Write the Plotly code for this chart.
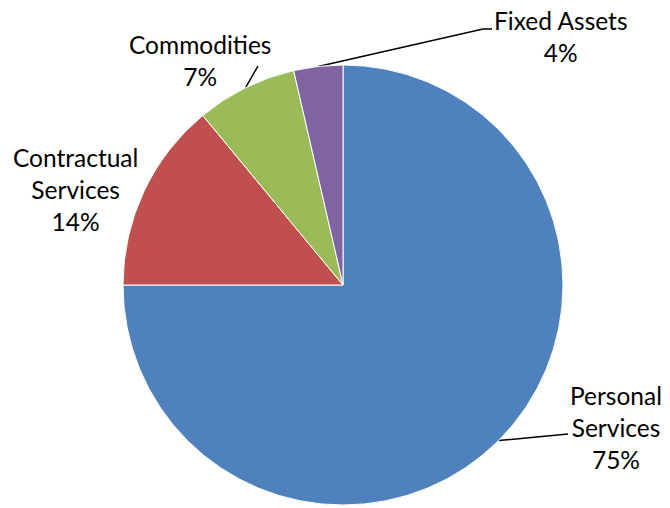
import math
import plotly.graph_objects as go

# ---- data ----
categories = ["Personal Services", "Contractual Services", "Commodities", "Fixed Assets"]
label_text = ["Personal<br>Services", "Contractual<br>Services", "Commodities", "Fixed Assets"]
values = [75.0, 14.0, 7.4, 3.6]
colors = ["#4F81BD", "#C0504D", "#9BBB59", "#8064A2"]

# ---- layout geometry (pixels) ----
W, H = 670, 508
CX, CY, R = 343, 285, 220
# label block centres and leader-line bend/end points (pixels), per category
label_pos = [(616, 427), (75, 189), (200, 60), (561, 36)]
leader_pts = [
    [(560, 435), (568, 434)],
    None,
    [(258, 66)],
    [(483, 29), (492, 29)],
]
FONT = "Lato"

fig = go.Figure()
fig.add_trace(go.Pie(
    labels=categories, values=values, sort=False, direction="clockwise", rotation=0,
    marker=dict(colors=colors, line=dict(color="white", width=1)),
    textinfo="none", hoverinfo="label+percent", showlegend=False,
    domain=dict(x=[(CX - R) / W, (CX + R) / W], y=[(H - CY - R) / H, (H - CY + R) / H]),
))

total = sum(values)
cum = 0.0
annotations = []
for i, v in enumerate(values):
    mid = (cum + v / 2) / total * 2 * math.pi
    cum += v
    sx = CX + R * math.sin(mid)
    sy = CY - R * math.cos(mid)
    pct = round(v / total * 100)
    lx, ly = label_pos[i]
    annotations.append(dict(
        x=lx, y=ly, xref="x", yref="y", text=f"{label_text[i]}<br>{pct}%",
        showarrow=False, align="center", xanchor="center", yanchor="middle",
        font=dict(family=FONT, size=24.5, color="#000000"),
    ))
    if leader_pts[i]:
        xs = [sx] + [p[0] for p in leader_pts[i]]
        ys = [sy] + [p[1] for p in leader_pts[i]]
        fig.add_trace(go.Scatter(x=xs, y=ys, mode="lines", line=dict(color="black", width=1.5),
                                 hoverinfo="skip", showlegend=False))

fig.update_layout(
    width=W, height=H, margin=dict(l=0, r=0, t=0, b=0),
    paper_bgcolor="white", plot_bgcolor="rgba(0,0,0,0)",
    xaxis=dict(range=[0, W], visible=False, fixedrange=True),
    yaxis=dict(range=[H, 0], visible=False, fixedrange=True),
    annotations=annotations,
)
fig.write_html("out.html", config={"displayModeBar": False},
               post_script="document.body.style.margin='0';")
